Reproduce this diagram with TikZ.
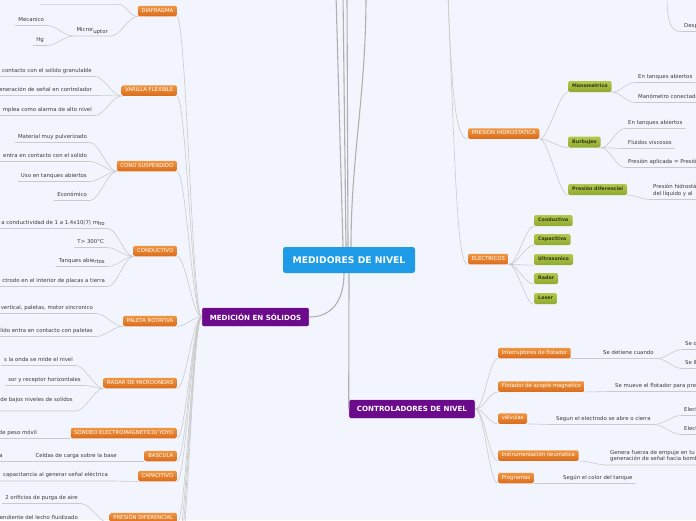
\documentclass[tikz,border=0pt]{standalone}
\usepackage{fontspec}
\setmainfont{DejaVu Sans}
\usepackage{tikz}
\usetikzlibrary{positioning, calc}

\definecolor{mapbg}{RGB}{242,245,253}
\definecolor{rootblue}{RGB}{30,155,230}
\definecolor{mainpurple}{RGB}{107,10,139}
\definecolor{orangetop}{RGB}{240,150,66}
\definecolor{orangebot}{RGB}{218,108,26}
\definecolor{greentop}{RGB}{176,200,78}
\definecolor{greenbot}{RGB}{142,170,46}
\definecolor{typetext}{RGB}{50,56,20}
\definecolor{leaftext}{RGB}{60,60,60}
\definecolor{linegray}{RGB}{202,202,202}
\definecolor{trunkgray}{RGB}{176,176,176}

\begin{document}
\begin{tikzpicture}[x=1pt, y=-1pt,
    rootbox/.style={fill=rootblue, text=white, font=\fontsize{9.2}{11}\selectfont\bfseries, rounded corners=2.5pt, minimum width=132pt, minimum height=26pt, inner sep=0pt},
    mainbox/.style={fill=mainpurple, text=white, font=\fontsize{7.1}{8}\selectfont\bfseries, rounded corners=2pt, minimum height=19pt, inner xsep=8pt, inner ysep=0pt, draw=white, line width=0.5pt},
    subbox/.style={top color=orangetop, bottom color=orangebot, text=white, font=\fontsize{5.3}{6}\selectfont, rounded corners=1.5pt, minimum height=10.5pt, inner xsep=3.6pt, inner ysep=0pt, text height=3.8pt, text depth=1.1pt},
    typebox/.style={top color=greentop, bottom color=greenbot, text=typetext, font=\fontsize{4.8}{6}\selectfont\bfseries, rounded corners=1.5pt, minimum height=11pt, inner xsep=4pt, inner ysep=0pt, text height=3.6pt, text depth=1pt},
    leaf/.style={text=leaftext, font=\fontsize{5.4}{6.6}\selectfont, inner xsep=3pt, inner ysep=2.8pt, text depth=1.2pt, align=left},
    conn/.style={draw=linegray, line width=0.6pt},
    trunk/.style={draw=trunkgray, line width=1.1pt},
    lft/.style={to path={.. controls +(-9,0) and +(9,0) .. (\tikztotarget)}},
    rgt/.style={to path={.. controls +(9,0) and +(-9,0) .. (\tikztotarget)}}
]
    % Canvas
    \fill[mapbg] (0,0) rectangle (696,520);
    \useasboundingbox (0,0) rectangle (696,520);

    % Central topic and main branches
    \node[rootbox] (root) at (349,260) {MEDIDORES DE NIVEL};
    \node[mainbox] (soli) at (255.5,317) {MEDICIÓN EN SÓLIDOS};
    \node[mainbox] (ctrl) at (412,409) {CONTROLADORES DE NIVEL};

    % Branches leaving the visible area
    \coordinate (upa) at (336,-5);
    \coordinate (upb) at (343,-5);
    \coordinate (upc) at (347,-5);
    \coordinate (upd) at (366,-5);
    \coordinate (liq) at (448,-5);
    \coordinate (topr) at (667,-5);
    \coordinate (solx1) at (177,545);
    \coordinate (solx2) at (177,565);
    \coordinate (solx3) at (177,590);

    \draw[trunk] ($(root.north)+(-6,0)$) -- (upa);
    \draw[trunk] ($(root.north)+(-3,0)$) -- (upb);
    \draw[trunk] ($(root.north)+(-1,0)$) -- (upc);
    \draw[trunk] ($(root.north)+(2,0)$) .. controls +(0,-90) and +(0,100) .. (upd);
    \draw[trunk] ($(root.south)+(-5,0)$) .. controls +(0,28) and +(22,0) .. (soli.east);
    \draw[trunk] (root.south) -- (ctrl.west);

    % Solids: categories
    \node[subbox, anchor=east] (diaf) at (177,11) {DIAFRAGMA};
    \node[subbox, anchor=east] (vari) at (177,90.5) {VARILLA FLEXIBLE};
    \node[subbox, anchor=east] (cono) at (177,166) {CONO SUSPENDIDO};
    \node[subbox, anchor=east] (cond) at (177,251) {CONDUCTIVO};
    \node[subbox, anchor=east] (pale) at (177,321) {PALETA ROTATIVA};
    \node[subbox, anchor=east] (rada) at (177,383) {RADAR DE MICROONDAS};
    \node[subbox, anchor=east] (sond) at (177,433) {SONDEO ELECTROMAGNETICO/ YOYO};
    \node[subbox, anchor=east] (basc) at (177,456) {BASCULA};
    \node[subbox, anchor=east] (capa) at (177,476) {CAPACITIVO};
    \node[subbox, anchor=east] (pdif) at (177,518) {PRESIÓN DIFERENCIAL};

    \draw[conn] (soli.west) to[lft] (diaf.south east);
    \draw[conn] (soli.west) to[lft] (vari.south east);
    \draw[conn] (soli.west) to[lft] (cono.south east);
    \draw[conn] (soli.west) to[lft] (cond.south east);
    \draw[conn] (soli.west) to[lft] (pale.south east);
    \draw[conn] (soli.west) to[lft] (rada.south east);
    \draw[conn] (soli.west) to[lft] (sond.south east);
    \draw[conn] (soli.west) to[lft] (basc.south east);
    \draw[conn] (soli.west) to[lft] (capa.south east);
    \draw[conn] (soli.west) to[lft] (pdif.south east);
    \draw[conn] (soli.west) to[lft] (solx1);
    \draw[conn] (soli.west) to[lft] (solx2);
    \draw[conn] (soli.west) to[lft] (solx3);

    % Solids: details
    \node[leaf, anchor=south east, minimum width=78pt] (d0) at (118,4.3) {};
    \node[leaf, anchor=south east] (micr) at (111,36) {Micror\raisebox{-1.3pt}{uptor}};
    \node[leaf, anchor=south east] (meca) at (47,25.5) {Mecanico};
    \node[leaf, anchor=south east] (hg) at (47,45.5) {Hg};
    \draw[conn] (diaf.south west) to[lft] (d0.south east) -- (d0.south west);
    \draw[conn] (diaf.south west) to[lft] (micr.south east) -- (micr.south west);
    \draw[conn] (micr.south west) to[lft] (meca.south east) -- (meca.south west);
    \draw[conn] (micr.south west) to[lft] (hg.south east) -- (hg.south west);

    \node[leaf, anchor=south east] (v1) at (95,76.5) {contacto con el solido granulable};
    \node[leaf, anchor=south east] (v2) at (95,95.5) {eneración de señal en controlador};
    \node[leaf, anchor=south east] (v3) at (95,115.5) {mplea como alarma de alto nivel};
    \draw[conn] (vari.south west) to[lft] (v1.south east) -- (v1.south west);
    \draw[conn] (vari.south west) to[lft] (v2.south east) -- (v2.south west);
    \draw[conn] (vari.south west) to[lft] (v3.south east) -- (v3.south west);

    \node[leaf, anchor=south east] (c1) at (90,142.5) {Material muy pulverizado};
    \node[leaf, anchor=south east] (c2) at (90,161.5) {entra en contacto con el solido};
    \node[leaf, anchor=south east] (c3) at (90,181.5) {Uso en tanques abiertos};
    \node[leaf, anchor=south east] (c4) at (90,200.5) {Económico};
    \draw[conn] (cono.south west) to[lft] (c1.south east) -- (c1.south west);
    \draw[conn] (cono.south west) to[lft] (c2.south east) -- (c2.south west);
    \draw[conn] (cono.south west) to[lft] (c3.south east) -- (c3.south west);
    \draw[conn] (cono.south west) to[lft] (c4.south east) -- (c4.south west);

    \node[leaf, anchor=south east] (k1) at (108,228.5) {a conductividad de 1 a 1.4x10(7) m\raisebox{-1.3pt}{ho}};
    \node[leaf, anchor=south east] (k2) at (107,247.5) {T> 300°C};
    \node[leaf, anchor=south east] (k3) at (108,266.5) {Tanques abie\raisebox{-1.3pt}{rtos}};
    \node[leaf, anchor=south east] (k4) at (108,286.5) {ctrodo en el interior de placas a tierra};
    \draw[conn] (cond.south west) to[lft] (k1.south east) -- (k1.south west);
    \draw[conn] (cond.south west) to[lft] (k2.south east) -- (k2.south west);
    \draw[conn] (cond.south west) to[lft] (k3.south east) -- (k3.south west);
    \draw[conn] (cond.south west) to[lft] (k4.south east) -- (k4.south west);

    \node[leaf, anchor=south east] (p1) at (96,313.5) {vertical, paletas, motor sincronico};
    \node[leaf, anchor=south east] (p2) at (96,336.5) {lido entra en contacto con paletas};
    \draw[conn] (pale.south west) to[lft] (p1.south east) -- (p1.south west);
    \draw[conn] (pale.south west) to[lft] (p2.south east) -- (p2.south west);

    \node[leaf, anchor=south east] (r1) at (76,365.5) {s la onda se mide el nivel};
    \node[leaf, anchor=south east] (r2) at (84,385.5) {sor y receptor horizontales};
    \node[leaf, anchor=south east, text depth=6.7pt] (r3) at (76,411) {de bajos niveles de solidos};
    \draw[conn] (rada.south west) to[lft] (r1.south east) -- (r1.south west);
    \draw[conn] (rada.south west) to[lft] (r2.south east) -- (r2.south west);
    \draw[conn] (rada.south west) to[lft] (r3.south east) -- (r3.south west);

    \node[leaf, anchor=south east] (s1) at (40,438.5) {de peso móvil};
    \draw[conn] (sond.south west) to[lft] (s1.south east) -- (s1.south west);

    \node[leaf, anchor=south east] (b1) at (120,461.5) {Celdas de carga sobre la base};
    \node[leaf, anchor=south east] (b2) at (6,461.5) {a};
    \draw[conn] (basc.south west) to[lft] (b1.south east) -- (b1.south west);
    \draw[conn] (b1.south west) to[lft] (b2.south east) -- (b2.south west);

    \node[leaf, anchor=south east] (q1) at (111,481) {capacitancia al generar señal eléctrica};
    \draw[conn] (capa.south west) to[lft] (q1.south east) -- (q1.south west);

    \node[leaf, anchor=south east] (f1) at (81,503.5) {2 orificios de purga de aire};
    \node[leaf, anchor=south east] (f2) at (81,523.5) {endiente del lecho fluidizado};
    \draw[conn] (pdif.south west) to[lft] (f1.south east) -- (f1.south west);
    \draw[conn] (pdif.south west) to[lft] (f2.south east) -- (f2.south west);

    % Liquids: hydrostatic pressure
    \node[subbox, anchor=west] (ph) at (468,133.5) {PRESION HIDROSTATICA};
    \node[typebox, anchor=west] (mano) at (568,86.5) {Manometrico};
    \node[typebox, anchor=west] (burb) at (568,142) {Burbujeo};
    \node[typebox, anchor=west] (pdl) at (568,189.5) {Presión diferencial};
    \draw[conn] (liq) .. controls (452,100) and (456,139) .. (ph.south west);
    \draw[conn] (ph.south east) to[rgt] (mano.south west);
    \draw[conn] (ph.south east) to[rgt] (burb.south west);
    \draw[conn] (ph.south east) to[rgt] (pdl.south west);

    \node[leaf, anchor=south west] (m1) at (635,82.5) {En tanques abiertos};
    \node[leaf, anchor=south west] (m2) at (635,102.5) {Manómetro conectado};
    \draw[conn] (mano.south east) to[rgt] (m1.south west) -- (m1.south east);
    \draw[conn] (mano.south east) to[rgt] (m2.south west) -- (m2.south east);

    \node[leaf, anchor=south west] (u1) at (625,128.5) {En tanques abiertos};
    \node[leaf, anchor=south west] (u2) at (625,148.5) {Fluidos viscosos};
    \node[leaf, anchor=south west] (u3) at (625,167.5) {Presión aplicada = Presión};
    \draw[conn] (burb.south east) to[rgt] (u1.south west) -- (u1.south east);
    \draw[conn] (burb.south east) to[rgt] (u2.south west) -- (u2.south east);
    \draw[conn] (burb.south east) to[rgt] (u3.south west) -- (u3.south east);

    \node[leaf, anchor=south west] (w1) at (650,199.5) {Presión hidrostática\\del líquido y al};
    \draw[conn] (pdl.south east) to[rgt] (w1.south west) -- (w1.south east);

    % Liquids: electric
    \node[subbox, anchor=west] (elec) at (468,259) {ELECTRICOS};
    \node[typebox, anchor=west] (econ) at (534,220.5) {Conductivo};
    \node[typebox, anchor=west] (ecap) at (534,239.5) {Capacitivo};
    \node[typebox, anchor=west] (eult) at (534,259.5) {Ultrasonico};
    \node[typebox, anchor=west] (erad) at (534,278.5) {Radar};
    \node[typebox, anchor=west] (elas) at (534,298.5) {Laser};
    \draw[conn] (liq) .. controls (456,200) and (458,265) .. (elec.south west);
    \draw[conn] (elec.south east) to[rgt] (econ.south west);
    \draw[conn] (elec.south east) to[rgt] (ecap.south west);
    \draw[conn] (elec.south east) to[rgt] (eult.south west);
    \draw[conn] (elec.south east) to[rgt] (erad.south west);
    \draw[conn] (elec.south east) to[rgt] (elas.south west);

    % Top right detail
    \node[leaf, anchor=south west] (desp) at (681,31.5) {Desp};
    \draw[conn] (topr) .. controls +(0,28) and +(-10,0) .. (desp.south west) -- (desp.south east);

    % Level controllers
    \node[subbox, anchor=west] (intf) at (498,353) {Interruptores de flotador};
    \node[subbox, anchor=west] (flom) at (498,386.5) {Flotador de acople magnetico};
    \node[subbox, anchor=west] (valv) at (498,418.5) {válvulas};
    \node[subbox, anchor=west] (insn) at (498,455.5) {Instrumentación neumatica};
    \node[subbox, anchor=west] (prog) at (498,478) {Programas};
    \draw[conn] (ctrl.east) to[rgt] (intf.south west);
    \draw[conn] (ctrl.east) to[rgt] (flom.south west);
    \draw[conn] (ctrl.east) to[rgt] (valv.south west);
    \draw[conn] (ctrl.east) to[rgt] (insn.south west);
    \draw[conn] (ctrl.east) to[rgt] (prog.south west);

    \node[leaf, anchor=south west] (i1) at (600,358.5) {Se detiene cuando};
    \node[leaf, anchor=south west] (i2) at (682,349.5) {Se d};
    \node[leaf, anchor=south west] (i3) at (682,368.5) {Se ll};
    \draw[conn] (intf.south east) to[rgt] (i1.south west) -- (i1.south east);
    \draw[conn] (i1.south east) to[rgt] (i2.south west) -- (i2.south east);
    \draw[conn] (i1.south east) to[rgt] (i3.south west) -- (i3.south east);

    \node[leaf, anchor=south west] (g1) at (612,391.5) {Se mueve el flotador para pre};
    \draw[conn] (flom.south east) to[rgt] (g1.south west) -- (g1.south east);

    \node[leaf, anchor=south west] (l1) at (553,424.5) {Segun el electrodo se abre o cierra};
    \node[leaf, anchor=south west] (l2) at (681,415.5) {Elect};
    \node[leaf, anchor=south west] (l3) at (681,434.5) {Elect};
    \draw[conn] (valv.south east) to[rgt] (l1.south west) -- (l1.south east);
    \draw[conn] (l1.south east) to[rgt] (l2.south west) -- (l2.south east);
    \draw[conn] (l1.south east) to[rgt] (l3.south west) -- (l3.south east);

    \node[leaf, anchor=south west] (n1) at (607,465) {Genera fuerza de empuje en tu\\generación de señal hacia bomb};
    \draw[conn] (insn.south east) to[rgt] (n1.south west) -- (n1.south east);

    \node[leaf, anchor=south west] (o1) at (560,483.5) {Según el color del tanque};
    \draw[conn] (prog.south east) to[rgt] (o1.south west) -- (o1.south east);
\end{tikzpicture}
\end{document}
